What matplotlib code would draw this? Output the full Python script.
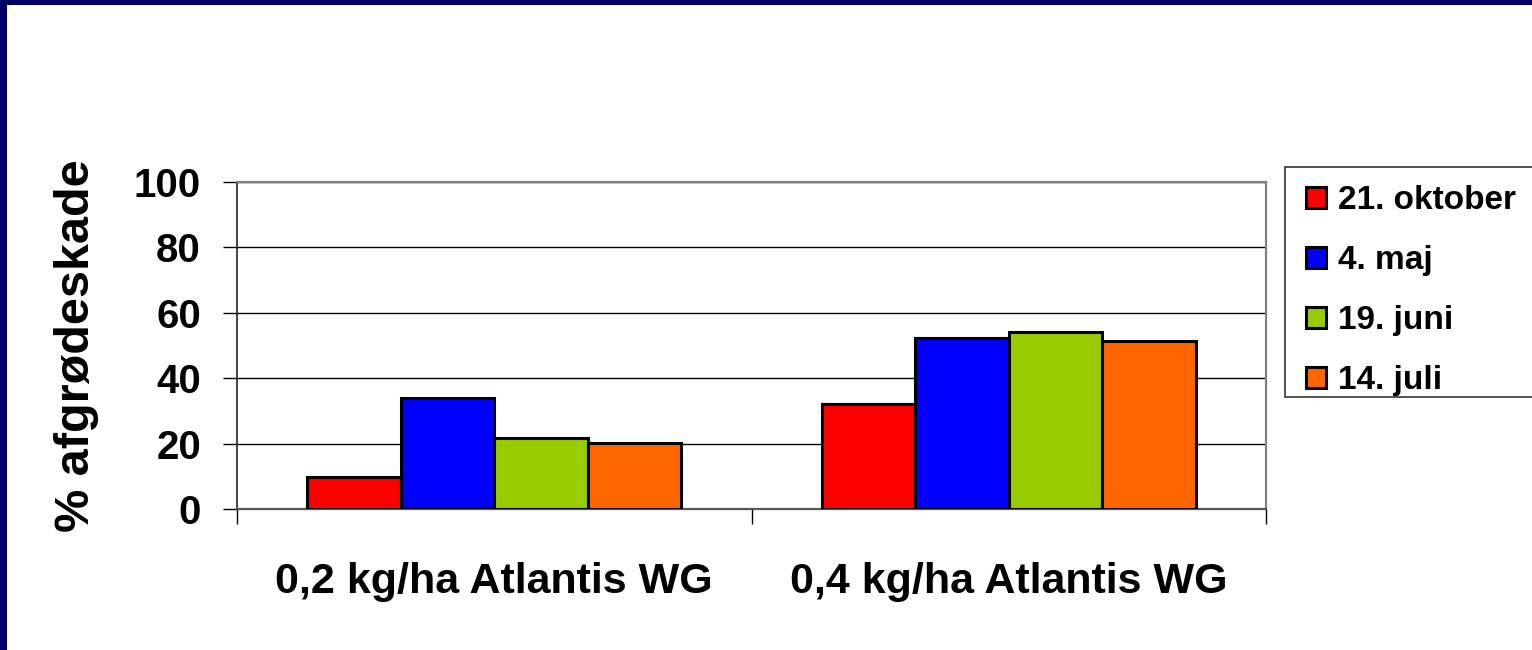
import numpy as np
import matplotlib
matplotlib.use('Agg')
import matplotlib.pyplot as plt
from matplotlib.patches import Rectangle

plt.rcParams['font.family'] = ['Liberation Sans', 'DejaVu Sans']
plt.rcParams['font.weight'] = 'bold'

# data
groups = ['0,2 kg/ha Atlantis WG', '0,4 kg/ha Atlantis WG']
dates = ['21. oktober', '4. maj', '19. juni', '14. juli']
okt = [9.9, 32.0]
maj = [33.9, 52.3]
juni = [21.8, 54.1]
juli = [20.3, 51.5]
series = [okt, maj, juni, juli]
colors = ['#FF0000', '#0000FF', '#99CC00', '#FF6600']
yticks = [0, 20, 40, 60, 80, 100]

W, H = 1532, 650
fig = plt.figure(figsize=(W / 100, H / 100), dpi=100)
fig.patch.set_facecolor('#000066')
# white slide body, navy frame on left and top
fig.patches.append(Rectangle((7 / W, 0), 1, 1 - 5 / H, transform=fig.transFigure,
                             facecolor='white', edgecolor='none', zorder=-10))

ax = fig.add_axes([237 / W, 1 - 509 / H, (1266 - 237) / W, (509 - 182) / H])

x = np.arange(len(groups))
w = 1 / 5.5
bars = []
for i, (vals, c) in enumerate(zip(series, colors)):
    b = ax.bar(x + (i - 1.5) * w, vals, width=w, color=c, edgecolor='black',
               linewidth=2.2, zorder=3)
    bars.append(b)

ax.set_xlim(-0.5, 1.5)
ax.set_ylim(0, 100)
ax.set_yticks(yticks)
ax.set_yticklabels([str(t) for t in yticks], fontsize=29, fontweight='bold')
ax.yaxis.grid(True, color='black', linewidth=1.0, zorder=0)
ax.set_axisbelow(True)

ax.set_xticks([-0.5, 0.5, 1.5])
ax.set_xticklabels([])
ax.set_xticks(x, minor=True)
ax.set_xticklabels(groups, minor=True, fontsize=31, fontweight='bold')
ax.tick_params(axis='x', which='major', length=11, width=1, color='black', direction='out')
ax.tick_params(axis='x', which='minor', length=0, pad=38)
ax.tick_params(axis='y', length=10, width=1, color='black', direction='out', pad=16)

for s in ['top', 'right']:
    ax.spines[s].set_color('#808080')
    ax.spines[s].set_linewidth(1.6)
ax.spines['left'].set_color('#333333')
ax.spines['left'].set_linewidth(1.3)
ax.spines['bottom'].set_color('#555555')
ax.spines['bottom'].set_linewidth(1.6)

ax.set_ylabel('% afgrødeskade', fontsize=35, fontweight='bold', labelpad=25)

# legend box running off the right edge
fig.patches.append(Rectangle((1285 / W, 1 - 397 / H), 0.2, (397 - 167) / H,
                             transform=fig.transFigure, facecolor='white',
                             edgecolor='#333333', linewidth=1.2, zorder=-5))
leg = fig.legend([b[0] for b in bars], dates, loc='upper left',
                 bbox_to_anchor=(1293 / W, 1 - 172 / H), frameon=False,
                 prop={'size': 24, 'weight': 'bold'}, handlelength=0.6,
                 handleheight=0.6, handletextpad=0.35, labelspacing=0.87,
                 borderaxespad=0)

fig.savefig('out.png', dpi=100, facecolor=fig.get_facecolor())
